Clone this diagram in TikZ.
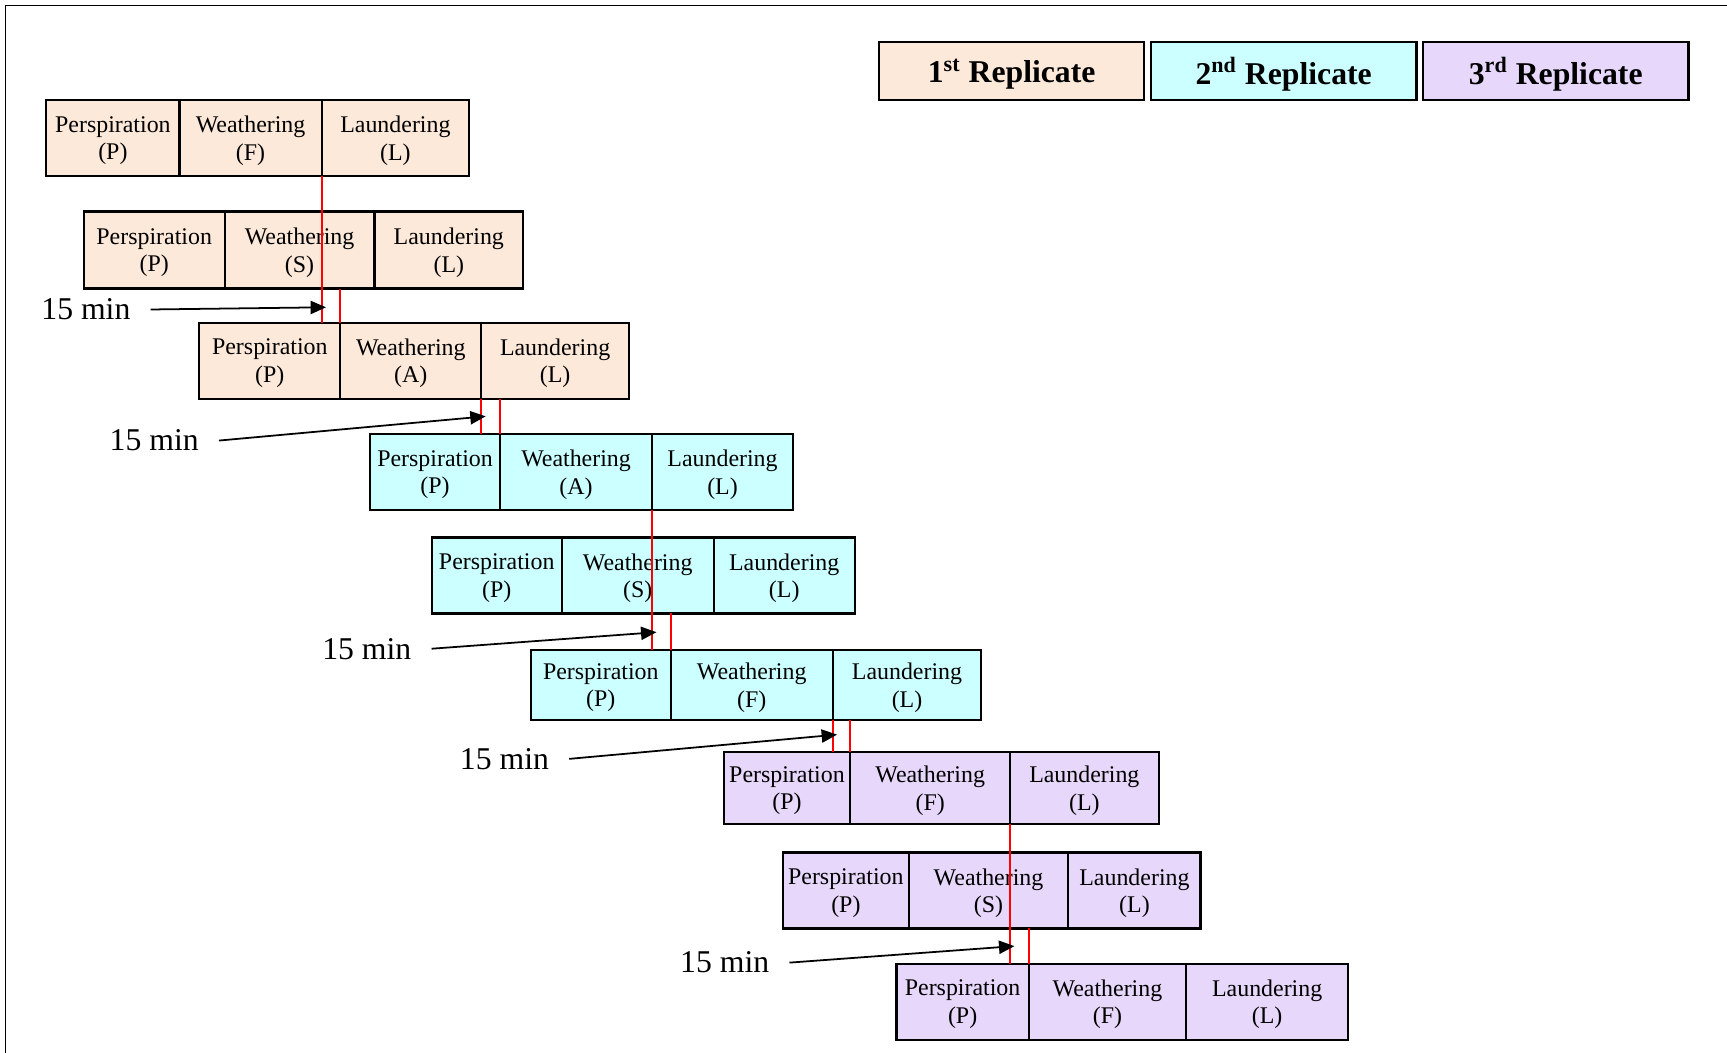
\documentclass[tikz,border=0pt]{standalone}
\usepackage{fontspec}
\setmainfont{Liberation Serif}
\usepackage{tikz}
\usetikzlibrary{arrows.meta,positioning}
\usetikzlibrary{calc}
\definecolor{peach}{RGB}{253,233,217}
\definecolor{aqua}{RGB}{204,255,255}
\definecolor{lilac}{RGB}{231,215,251}
\tikzstyle{cell}=[draw, line width=1pt, inner sep=1pt, outer sep=0pt, align=center, text depth=0pt, font=\fontsize{10.85}{12.5}\selectfont]
\tikzstyle{legend}=[draw, line width=1pt, outer sep=0pt, minimum width=120.5pt, minimum height=26.5pt, text depth=0pt, font=\fontsize{14.4}{17}\selectfont\bfseries]
\tikzstyle{gap}=[inner xsep=9pt, inner ysep=0pt, font=\fontsize{14.4}{17}\selectfont]
\tikzstyle{link}=[red, line width=1pt]
% one run: name, top left corner, colour, weathering letter, height, three widths
\newcommand\washrow[8]{%
\node[cell, fill=#3, minimum height=#5, minimum width=#6, anchor=north west] (#1p) at #2 {Perspiration\\(P)};
\node[cell, fill=#3, minimum height=#5, minimum width=#7, right=0pt of #1p] (#1w) {Weathering\\(#4)};
\node[cell, fill=#3, minimum height=#5, minimum width=#8, right=0pt of #1w] (#1l) {Laundering\\(L)};}

\begin{document}
\begin{tikzpicture}[x=0.5pt, y=-0.5pt, >={Triangle[length=7pt,width=6pt]}]
\useasboundingbox (0,0) rectangle (1568,956);
\draw[line width=0.9pt] (5,956) -- (5,5) -- (1568,5);
% legend
\node[legend, fill=peach, anchor=north west] (rep1) at (798,38) {1\textsuperscript{st} Replicate};
\node[legend, fill=aqua, right=3pt of rep1] (rep2) {2\textsuperscript{nd} Replicate};
\node[legend, fill=lilac, right=3pt of rep2] (rep3) {3\textsuperscript{rd} Replicate};
% runs
\washrow{r1}{(42,91)}{peach}{F}{34.5pt}{60.5pt}{64.5pt}{67pt}
\washrow{r2}{(76,192)}{peach}{S}{35pt}{64pt}{68pt}{67.5pt}
\washrow{r3}{(181,293)}{peach}{A}{34.5pt}{64pt}{64pt}{67pt}
\washrow{r4}{(336,394)}{aqua}{A}{34.5pt}{59pt}{69pt}{64pt}
\washrow{r5}{(392,488)}{aqua}{S}{34.5pt}{59pt}{69pt}{64pt}
\washrow{r6}{(482,590)}{aqua}{F}{32pt}{63.5pt}{73.5pt}{67.5pt}
\washrow{r7}{(657,683)}{lilac}{F}{32.5pt}{57.5pt}{72.5pt}{67.5pt}
\washrow{r8}{(711,774)}{lilac}{S}{34.5pt}{57pt}{72.5pt}{60pt}
\washrow{r9}{(814,875)}{lilac}{F}{34.5pt}{60pt}{71.5pt}{73.5pt}
% red marks
\draw[link] (r1w.south east) -- (r1w.south east |- r3p.north);
\draw[link] (r3w.north west) -- (r3w.north west |- r2p.south);
\draw[link] (r3w.south east) -- (r3w.south east |- r4p.north);
\draw[link] (r4w.north west) -- (r4w.north west |- r3p.south);
\draw[link] (r4w.south east) -- (r4w.south east |- r6p.north);
\draw[link] (r6w.north west) -- (r6w.north west |- r5p.south);
\draw[link] (r6w.south east) -- (r6w.south east |- r7p.north);
\draw[link] (r7w.north west) -- (r7w.north west |- r6p.south);
\draw[link] (r7w.south east) -- (r7w.south east |- r9p.north);
\draw[link] (r9w.north west) -- (r9w.north west |- r8p.south);
% 15 min gaps
\node[gap] (m1) at (78,281) {15 min};
\node[gap] (m2) at (140,400) {15 min};
\node[gap] (m3) at (333,589) {15 min};
\node[gap] (m4) at (458,689) {15 min};
\node[gap] (m5) at (658,874) {15 min};
\coordinate (tip1) at ($(r1w.south east |- r3p.north)+(2pt,7pt)$);
\coordinate (tip2) at ($(r3w.south east |- r4p.north)+(2pt,8pt)$);
\coordinate (tip3) at ($(r4w.south east |- r6p.north)+(2pt,8pt)$);
\coordinate (tip4) at ($(r6w.south east |- r7p.north)+(2pt,8pt)$);
\coordinate (tip5) at ($(r7w.south east |- r9p.north)+(2pt,8pt)$);
\draw[->, line width=0.8pt] (m1.east) -- (tip1);
\draw[->, line width=0.8pt] (m2.east) -- (tip2);
\draw[->, line width=0.8pt] (m3.east) -- (tip3);
\draw[->, line width=0.8pt] (m4.east) -- (tip4);
\draw[->, line width=0.8pt] (m5.east) -- (tip5);
\end{tikzpicture}
\end{document}
